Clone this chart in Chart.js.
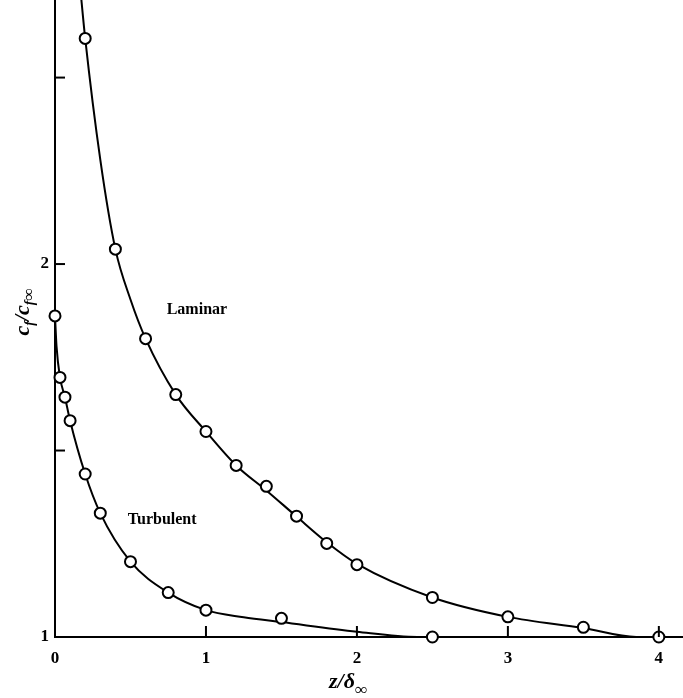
<!DOCTYPE html>
<html>
<head>
<meta charset="utf-8">
<script src="https://cdn.jsdelivr.net/npm/chart.js@4.4.1/dist/chart.umd.min.js"></script>
<style>
  html, body { margin: 0; padding: 0; background: #fff; }
  #wrap { width: 683px; height: 698px; position: relative; }
</style>
</head>
<body>
<div id="wrap"><canvas id="chart"></canvas></div>
<script>
// measured points (open circles)
const laminarX = [0.2, 0.4, 0.6, 0.8, 1.0, 1.2, 1.4, 1.6, 1.8, 2.0, 2.5, 3.0, 3.5, 4.0];
const laminarY = [2.605, 2.04, 1.80, 1.65, 1.551, 1.46, 1.404, 1.324, 1.251, 1.194, 1.106, 1.054, 1.026, 1.0];
const turbulentX = [0, 0.033, 0.066, 0.1, 0.2, 0.3, 0.5, 0.75, 1.0, 1.5, 2.5];
const turbulentY = [1.861, 1.696, 1.643, 1.58, 1.437, 1.332, 1.202, 1.119, 1.072, 1.05, 1.0];

// faired curves
const laminarCurveX = [0.165, 0.2, 0.3, 0.4, 0.5, 0.6, 0.8, 1.0, 1.2, 1.4, 1.6, 1.8, 2.0, 2.5, 3.0, 3.5, 3.85, 4.16];
const laminarCurveY = [2.75, 2.605, 2.28, 2.04, 1.905, 1.80, 1.65, 1.551, 1.46, 1.393, 1.323, 1.254, 1.196, 1.106, 1.054, 1.024, 1.0, 1.0];
const turbulentCurveX = [0, 0.01, 0.033, 0.066, 0.1, 0.2, 0.3, 0.5, 0.75, 1.0, 1.25, 1.5, 2.0, 2.4, 4.16];
const turbulentCurveY = [1.861, 1.78, 1.696, 1.643, 1.58, 1.437, 1.332, 1.202, 1.119, 1.072, 1.053, 1.04, 1.014, 1.0, 1.0];

const xTicks = [0, 1, 2, 3, 4];
const yTicks = [1, 1.5, 2, 2.5];
const yLabelled = [1, 2];

const serif = "'Liberation Serif', 'DejaVu Serif', serif";

const toPoints = (xs, ys) => xs.map((x, i) => ({ x: x, y: ys[i] }));

// chart area fills the canvas edge to edge, like the scanned figure
const noPad = scale => {
  scale.paddingTop = 0;
  scale.paddingBottom = 0;
  scale.paddingLeft = 0;
  scale.paddingRight = 0;
};

// inner tick marks, curve labels and axis titles
const decorations = {
  id: "decorations",
  afterDraw(chart) {
    const { ctx, scales: { x, y } } = chart;
    ctx.save();
    ctx.strokeStyle = "#000";
    ctx.lineWidth = 2;
    xTicks.slice(1).forEach(v => {
      const px = x.getPixelForValue(v);
      ctx.beginPath();
      ctx.moveTo(px, y.bottom);
      ctx.lineTo(px, y.bottom - 11);
      ctx.stroke();
    });
    yTicks.slice(1).forEach(v => {
      const py = y.getPixelForValue(v);
      ctx.beginPath();
      ctx.moveTo(x.left, py);
      ctx.lineTo(x.left + 10, py);
      ctx.stroke();
    });

    ctx.fillStyle = "#000";
    ctx.textAlign = "center";
    ctx.textBaseline = "middle";
    ctx.font = "bold 16px " + serif;
    ctx.fillText("Laminar", x.getPixelForValue(0.94), y.getPixelForValue(1.877));
    ctx.fillText("Turbulent", x.getPixelForValue(0.71), y.getPixelForValue(1.314));

    // x title: z/δ∞
    ctx.textAlign = "left";
    ctx.textBaseline = "alphabetic";
    ctx.font = "italic bold 22px " + serif;
    const main = "z/\u03b4";
    const sub = "\u221e";
    const wMain = ctx.measureText(main).width;
    ctx.font = "bold 17px " + serif;
    const wSub = ctx.measureText(sub).width;
    const sx = 348 - (wMain + wSub) / 2;
    ctx.font = "italic bold 22px " + serif;
    ctx.fillText(main, sx, 688);
    ctx.font = "bold 17px " + serif;
    ctx.fillText(sub, sx + wMain, 695);

    // y title: c_f / c_f∞ rotated
    ctx.translate(29, 312);
    ctx.rotate(-Math.PI / 2);
    const parts = [
      { t: "c", f: "italic bold 22px " + serif, dy: 0 },
      { t: "f", f: "italic bold 14px " + serif, dy: 5 },
      { t: "/", f: "italic bold 22px " + serif, dy: 0 },
      { t: "c", f: "italic bold 22px " + serif, dy: 0 },
      { t: "f", f: "italic bold 14px " + serif, dy: 5 },
      { t: "\u221e", f: "bold 17px " + serif, dy: 5 }
    ];
    let total = 0;
    parts.forEach(p => { ctx.font = p.f; p.w = ctx.measureText(p.t).width; total += p.w; });
    let cx = -total / 2;
    parts.forEach(p => {
      ctx.font = p.f;
      ctx.fillText(p.t, cx, p.dy);
      cx += p.w;
    });
    ctx.restore();
  }
};

new Chart(document.getElementById("chart"), {
  type: "scatter",
  data: {
    datasets: [
      {
        label: "Laminar points",
        data: toPoints(laminarX, laminarY),
        showLine: false,
        pointRadius: 5.5,
        pointBorderWidth: 2,
        pointBackgroundColor: "#fff",
        pointBorderColor: "#000",
        clip: false
      },
      {
        label: "Turbulent points",
        data: toPoints(turbulentX, turbulentY),
        showLine: false,
        pointRadius: 5.5,
        pointBorderWidth: 2,
        pointBackgroundColor: "#fff",
        pointBorderColor: "#000",
        clip: false
      },
      {
        label: "Laminar",
        data: toPoints(laminarCurveX, laminarCurveY),
        showLine: true,
        pointRadius: 0,
        borderColor: "#000",
        borderWidth: 2,
        cubicInterpolationMode: "monotone",
        clip: false
      },
      {
        label: "Turbulent",
        data: toPoints(turbulentCurveX, turbulentCurveY),
        showLine: true,
        pointRadius: 0,
        borderColor: "#000",
        borderWidth: 2,
        cubicInterpolationMode: "monotone",
        clip: false
      }
    ]
  },
  options: {
    responsive: true,
    maintainAspectRatio: false,
    animation: false,
    layout: { padding: 0, autoPadding: false },
    plugins: {
      legend: { display: false },
      tooltip: { enabled: false }
    },
    scales: {
      x: {
        type: "linear",
        min: 0,
        max: 4.16,
        afterBuildTicks: scale => { scale.ticks = xTicks.map(v => ({ value: v })); },
        afterFit: scale => { scale.height = 61; noPad(scale); },
        grid: { display: false, drawTicks: false },
        border: { display: true, color: "#000", width: 2 },
        ticks: {
          padding: 11,
          color: "#000",
          font: { family: serif, size: 17, weight: "bold" },
          maxRotation: 0
        }
      },
      y: {
        type: "linear",
        min: 1,
        max: 2.708,
        afterBuildTicks: scale => { scale.ticks = yTicks.map(v => ({ value: v })); },
        afterFit: scale => { scale.width = 55; noPad(scale); },
        grid: { display: false, drawTicks: false },
        border: { display: true, color: "#000", width: 2 },
        ticks: {
          padding: 6,
          color: "#000",
          font: { family: serif, size: 17, weight: "bold" },
          callback: v => (yLabelled.includes(v) ? String(v) : "")
        }
      }
    }
  },
  plugins: [decorations]
});
</script>
</body>
</html>
